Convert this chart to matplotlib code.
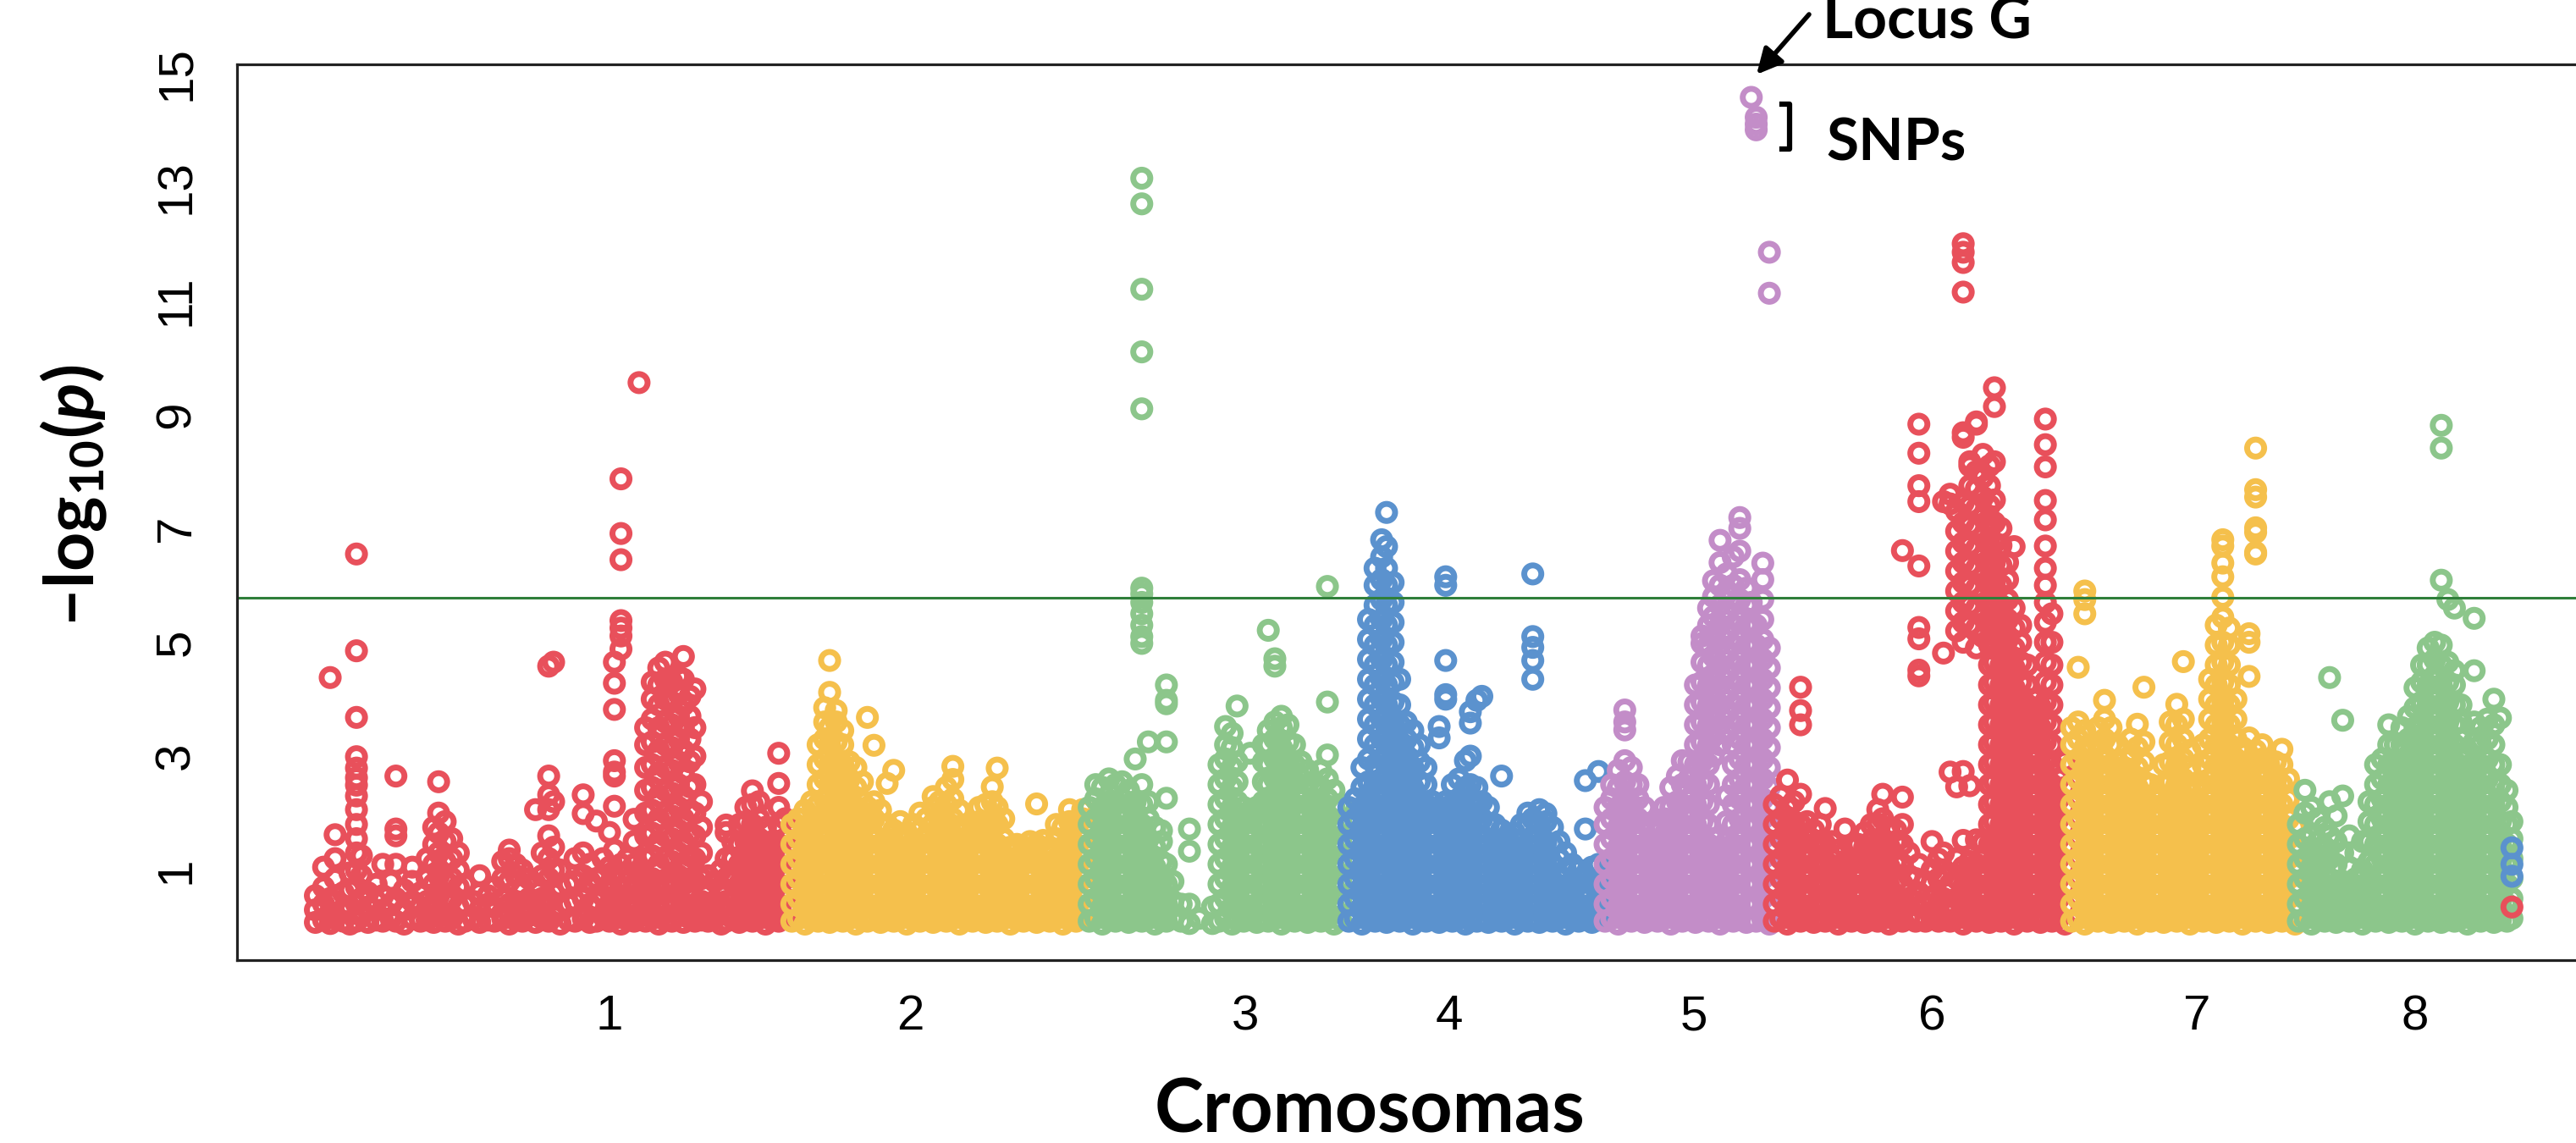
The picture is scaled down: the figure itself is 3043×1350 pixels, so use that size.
import matplotlib
matplotlib.use('Agg')
import matplotlib.pyplot as plt
from matplotlib.lines import Line2D

################ data : position -> list of -log10(p) at that position ################

chr1 = {
    192: [0.08, 0.3, 0.55], 197: [0.12, 0.4, 0.7, 1.05], 201: [0.06, 0.25, 0.5, 4.38],
    204: [0.15, 0.45, 0.85, 1.2, 1.62], 209: [0.1, 0.3, 0.6], 213: [0.05, 0.35, 0.65, 0.95],
    217: [0.1, 0.4, 0.7, 1.0, 1.3, 1.55, 1.8, 2.06, 2.3, 2.49, 2.62, 2.79, 2.99, 3.68, 4.85, 6.55],
    220: [0.2, 0.5, 0.9, 1.25], 224: [0.08, 0.35, 0.6], 229: [0.12, 0.45, 0.75],
    233: [0.1, 0.3, 0.55, 1.1], 238: [0.15, 0.4, 0.8], 241: [0.1, 0.5, 1.1, 1.6, 1.72, 2.65],
    246: [0.05, 0.3, 0.65], 251: [0.15, 0.45, 0.8, 1.05], 256: [0.1, 0.35, 0.6],
    260: [0.12, 0.45, 0.85, 1.2], 264: [0.08, 0.4, 0.75, 1.1, 1.45, 1.75],
    267: [0.2, 0.55, 0.9, 1.3, 1.65, 2.0, 2.55], 271: [0.1, 0.45, 0.8, 1.15, 1.5, 1.85],
    275: [0.15, 0.5, 0.85, 1.2, 1.55], 279: [0.05, 0.35, 0.7, 1.0, 1.3], 283: [0.1, 0.4, 0.75],
    288: [0.15, 0.45], 292: [0.08, 0.3, 0.6, 0.9], 297: [0.12, 0.4, 0.55], 301: [0.1, 0.35, 0.7],
    306: [0.15, 0.5, 0.85, 1.15], 310: [0.05, 0.4, 0.8, 1.2, 1.35], 314: [0.12, 0.45, 0.9, 1.1],
    318: [0.1, 0.35, 0.7, 1.0], 322: [0.2, 0.5, 0.85], 326: [0.08, 0.4, 0.75, 2.06],
    330: [0.15, 0.5, 0.9, 1.3], 334: [0.1, 0.45, 0.85, 1.2, 1.6, 2.06, 2.32, 2.65, 4.58],
    337: [0.2, 0.6, 1.0, 1.4, 2.2, 4.65], 341: [0.05, 0.35, 0.7, 1.0], 346: [0.12, 0.4, 0.75],
    350: [0.1, 0.45, 0.8, 1.2], 355: [0.15, 0.5, 0.9, 1.3, 1.99, 2.32], 359: [0.08, 0.4, 0.8, 1.1],
    363: [0.1, 0.45, 0.85, 1.86], 367: [0.2, 0.55, 0.9, 1.2], 371: [0.1, 0.4, 0.75, 1.05, 1.66],
    374: [0.15, 0.5, 0.9, 1.35, 2.12, 2.65, 2.72, 2.92, 3.82, 4.28, 4.65],
    378: [0.05, 0.35, 0.7, 1.1, 4.88, 5.11, 5.25, 5.38, 6.45, 6.91, 7.87],
    382: [0.12, 0.45, 0.8, 1.2], 386: [0.1, 0.4, 0.75, 1.1, 1.5, 1.89], 389: [0.2, 0.55, 0.9, 9.56],
    393: [0.1, 0.45, 0.8, 1.2, 1.6, 2.0, 2.4, 2.8, 3.2, 3.5],
    397: [0.15, 0.5, 0.85, 1.25, 1.65, 2.05, 2.45, 2.85, 3.25, 3.65, 4.0, 4.3],
    401: [0.05, 0.4, 0.75, 1.1, 1.5, 1.9, 2.3, 2.7, 3.1, 3.5, 3.9, 4.25, 4.55],
    405: [0.12, 0.45, 0.8, 1.2, 1.6, 2.0, 2.4, 2.8, 3.2, 3.6, 4.0, 4.35, 4.65],
    409: [0.1, 0.45, 0.8, 1.15, 1.55, 1.95, 2.35, 2.75, 3.15, 3.55, 3.95, 4.3],
    413: [0.2, 0.55, 0.9, 1.3, 1.7, 2.1, 2.5, 2.9, 3.3, 3.7, 4.1, 4.4],
    416: [0.08, 0.4, 0.75, 1.1, 1.5, 1.9, 2.3, 2.7, 3.1, 3.5, 3.9, 4.35, 4.75],
    420: [0.15, 0.5, 0.85, 1.25, 1.65, 2.05, 2.46, 2.9, 3.3, 3.7, 4.05],
    423: [0.1, 0.4, 0.8, 1.2, 1.6, 2.0, 2.5, 3.0, 3.5, 4.18],
    427: [0.12, 0.45, 0.85, 1.3, 1.75, 2.2], 431: [0.1, 0.35, 0.65, 0.9], 435: [0.15, 0.45, 0.8],
    439: [0.05, 0.4, 0.7, 1.0], 442: [0.1, 0.45, 0.85, 1.2, 1.66, 1.79],
    446: [0.15, 0.5, 0.85, 1.2, 1.5], 450: [0.08, 0.4, 0.75, 1.1, 1.45, 1.8],
    454: [0.12, 0.45, 0.8, 1.15, 1.5, 1.85, 2.1], 458: [0.1, 0.4, 0.75, 1.1, 1.45, 1.8, 2.15, 2.39],
    462: [0.15, 0.5, 0.85, 1.2, 1.55, 1.9, 2.2], 466: [0.05, 0.35, 0.7, 1.05, 1.4, 1.75],
    470: [0.12, 0.45, 0.8, 1.15, 1.5], 474: [0.1, 0.4, 0.75, 1.1, 1.45, 1.8, 2.1, 2.52, 3.05],
    478: [0.15, 0.5, 0.85, 1.2, 1.55, 1.9],
}

chr2 = {
    482: [0.1, 0.4, 0.75, 1.1, 1.45, 1.8], 486: [0.15, 0.5, 0.85, 1.2, 1.55, 1.9],
    490: [0.05, 0.35, 0.7, 1.05, 1.4, 1.75, 2.05], 494: [0.12, 0.45, 0.8, 1.15, 1.5, 1.85, 2.2],
    498: [0.1, 0.4, 0.75, 1.1, 1.45, 1.8, 2.15, 2.5, 2.85, 3.2],
    502: [0.15, 0.5, 0.85, 1.2, 1.55, 1.9, 2.25, 2.6, 2.95, 3.3, 3.6, 3.85],
    505: [0.08, 0.4, 0.75, 1.1, 1.45, 1.8, 2.15, 2.5, 2.85, 3.2, 3.5, 4.12, 4.68],
    509: [0.12, 0.45, 0.8, 1.15, 1.5, 1.85, 2.2, 2.55, 2.9, 3.25, 3.6, 3.8],
    513: [0.1, 0.4, 0.75, 1.1, 1.45, 1.8, 2.15, 2.5, 2.85, 3.2, 3.45],
    517: [0.15, 0.5, 0.85, 1.2, 1.55, 1.9, 2.25, 2.6, 2.9],
    521: [0.05, 0.35, 0.7, 1.05, 1.4, 1.75, 2.1, 2.45, 2.8],
    525: [0.12, 0.45, 0.8, 1.15, 1.5, 1.85, 2.2, 2.55], 528: [0.1, 0.4, 0.75, 1.1, 1.45, 1.8, 2.1, 3.68],
    532: [0.15, 0.5, 0.85, 1.2, 1.55, 1.9, 2.2, 3.19], 536: [0.08, 0.4, 0.75, 1.1, 1.45, 1.8, 2.05],
    540: [0.12, 0.45, 0.8, 1.15, 1.5, 1.8, 2.52], 544: [0.1, 0.4, 0.75, 1.1, 1.45, 1.7, 2.75],
    548: [0.15, 0.5, 0.85, 1.2, 1.55, 1.85], 552: [0.05, 0.35, 0.7, 1.05, 1.4, 1.65],
    556: [0.12, 0.45, 0.8, 1.15, 1.5, 1.8], 560: [0.1, 0.4, 0.75, 1.1, 1.45, 1.7, 2.0],
    564: [0.15, 0.5, 0.85, 1.2, 1.55, 1.9], 568: [0.08, 0.4, 0.75, 1.1, 1.45, 1.8, 2.1, 2.29],
    572: [0.12, 0.45, 0.8, 1.15, 1.5, 1.85, 2.2], 576: [0.1, 0.4, 0.75, 1.1, 1.45, 1.8, 2.15, 2.45],
    580: [0.15, 0.5, 0.85, 1.2, 1.55, 1.9, 2.25, 2.59, 2.82], 584: [0.05, 0.35, 0.7, 1.05, 1.4, 1.75, 2.05],
    588: [0.12, 0.45, 0.8, 1.15, 1.5, 1.8], 592: [0.1, 0.4, 0.75, 1.1, 1.45, 1.75],
    596: [0.15, 0.5, 0.85, 1.2, 1.55, 1.85, 2.1], 600: [0.08, 0.4, 0.75, 1.1, 1.45, 1.8, 2.15],
    604: [0.12, 0.45, 0.8, 1.15, 1.5, 1.85, 2.2, 2.46], 607: [0.1, 0.4, 0.75, 1.1, 1.45, 1.8, 2.1, 2.79],
    611: [0.15, 0.5, 0.85, 1.2, 1.55, 1.9], 615: [0.05, 0.35, 0.7, 1.05, 1.4],
    619: [0.12, 0.45, 0.8, 1.15, 1.45], 623: [0.1, 0.4, 0.75, 1.1, 1.4], 627: [0.15, 0.5, 0.85, 1.2, 1.5],
    631: [0.08, 0.4, 0.75, 1.1, 1.45, 2.16], 635: [0.12, 0.45, 0.8, 1.15, 1.52],
    639: [0.1, 0.4, 0.75, 1.1, 1.4], 643: [0.15, 0.5, 0.85, 1.2, 1.55, 1.8],
    647: [0.05, 0.35, 0.7, 1.05, 1.4, 1.75], 651: [0.12, 0.45, 0.8, 1.15, 1.5, 1.85, 2.06],
    655: [0.1, 0.4, 0.75, 1.1, 1.45, 1.8], 659: [0.15, 0.5, 0.85, 1.2, 1.55, 1.9, 2.06],
}

chr3 = {
    663: [0.1, 0.4, 0.75, 1.1, 1.45, 1.8, 2.1], 667: [0.15, 0.5, 0.85, 1.2, 1.55, 1.9, 2.25, 2.5],
    671: [0.05, 0.35, 0.7, 1.05, 1.4, 1.75, 2.1, 2.45], 675: [0.12, 0.45, 0.8, 1.15, 1.5, 1.85, 2.2, 2.6],
    679: [0.1, 0.4, 0.75, 1.1, 1.45, 1.8, 2.15, 2.5], 683: [0.15, 0.5, 0.85, 1.2, 1.55, 1.9, 2.25, 2.55],
    687: [0.08, 0.4, 0.75, 1.1, 1.45, 1.8, 2.15, 2.4], 691: [0.12, 0.45, 0.8, 1.15, 1.5, 1.85, 2.2, 2.95],
    695: [0.1, 0.4, 0.75, 1.1, 1.45, 1.8, 2.15, 2.5, 4.98, 5.1, 5.3, 5.5, 5.7, 5.85, 5.95,
          9.1, 10.1, 11.2, 12.7, 13.15],
    699: [0.15, 0.5, 0.85, 1.2, 1.55, 1.9, 2.2, 3.25], 703: [0.05, 0.35, 0.7, 1.05, 1.4, 1.75],
    707: [0.12, 0.45, 0.8, 1.15, 1.5, 1.69], 710: [0.1, 0.4, 0.75, 1.1, 2.26, 3.25, 3.92, 3.98, 4.25],
    714: [0.15, 0.45, 0.8], 719: [0.1, 0.4], 724: [0.06, 0.4, 1.33, 1.72], 730: [0.15], 738: [0.06, 0.35],
    742: [0.1, 0.4, 0.75, 1.1, 1.45, 1.8, 2.15, 2.5, 2.85],
    746: [0.15, 0.5, 0.85, 1.2, 1.55, 1.9, 2.25, 2.6, 2.95, 3.2, 3.52],
    750: [0.05, 0.35, 0.7, 1.05, 1.4, 1.75, 2.1, 2.45, 2.8, 3.15, 3.4],
    753: [0.12, 0.45, 0.8, 1.15, 1.5, 1.85, 2.2, 2.55, 2.9, 3.88],
    757: [0.1, 0.4, 0.75, 1.1, 1.45, 1.8, 2.1], 761: [0.15, 0.5, 0.85, 1.2, 1.55, 1.9, 3.05],
    765: [0.08, 0.4, 0.75, 1.1, 1.45, 1.8, 2.1],
    769: [0.12, 0.45, 0.8, 1.15, 1.5, 1.85, 2.2, 2.55, 2.9, 3.2],
    772: [0.1, 0.4, 0.75, 1.1, 1.45, 1.8, 2.15, 2.5, 2.85, 3.2, 3.45, 5.21],
    776: [0.15, 0.5, 0.85, 1.2, 1.55, 1.9, 2.25, 2.6, 2.95, 3.3, 3.6, 4.58, 4.71],
    780: [0.05, 0.35, 0.7, 1.05, 1.4, 1.75, 2.1, 2.45, 2.8, 3.15, 3.5, 3.7],
    784: [0.12, 0.45, 0.8, 1.15, 1.5, 1.85, 2.2, 2.55, 2.9, 3.25, 3.55],
    788: [0.1, 0.4, 0.75, 1.1, 1.45, 1.8, 2.15, 2.5, 2.85, 3.2],
    792: [0.15, 0.5, 0.85, 1.2, 1.55, 1.9, 2.25, 2.6, 2.9],
    796: [0.08, 0.4, 0.75, 1.1, 1.45, 1.8, 2.15, 2.5, 2.75],
    800: [0.12, 0.45, 0.8, 1.15, 1.5, 1.85, 2.2, 2.5],
    804: [0.1, 0.4, 0.75, 1.1, 1.45, 1.8, 2.15, 2.45, 2.75],
    808: [0.15, 0.5, 0.85, 1.2, 1.55, 1.9, 2.25, 2.6, 3.02, 3.95, 5.98],
    812: [0.05, 0.35, 0.7, 1.05, 1.4, 1.75, 2.1, 2.4], 816: [0.12, 0.45, 0.8, 1.15, 1.5, 1.85, 2.15],
}

chr4 = {
    821: [0.1, 0.4, 0.75, 1.1, 1.45, 1.8, 2.1], 825: [0.15, 0.5, 0.85, 1.2, 1.55, 1.9, 2.25],
    829: [0.05, 0.35, 0.7, 1.05, 1.4, 1.75, 2.1, 2.45, 2.8],
    833: [0.12, 0.45, 0.8, 1.15, 1.5, 1.85, 2.2, 2.55, 2.95, 3.3, 3.65, 4.0, 4.35, 4.7, 5.05, 5.4],
    837: [0.1, 0.4, 0.75, 1.1, 1.45, 1.8, 2.15, 2.5, 2.85, 3.2, 3.55, 3.9, 4.25, 4.6, 4.95, 5.3,
          5.65, 6.0, 6.3],
    841: [0.15, 0.5, 0.85, 1.2, 1.55, 1.9, 2.25, 2.6, 2.95, 3.3, 3.65, 4.0, 4.35, 4.7, 5.05, 5.4,
          5.75, 6.1, 6.5, 6.8],
    844: [0.08, 0.4, 0.75, 1.1, 1.45, 1.8, 2.15, 2.5, 2.85, 3.2, 3.55, 3.9, 4.25, 4.6, 4.95, 5.3,
          5.65, 6.0, 6.3, 6.68, 7.28],
    848: [0.12, 0.45, 0.8, 1.15, 1.5, 1.85, 2.2, 2.55, 2.9, 3.25, 3.6, 3.95, 4.3, 4.65, 5.0, 5.35,
          5.7, 6.05],
    852: [0.1, 0.4, 0.75, 1.1, 1.45, 1.8, 2.15, 2.5, 2.85, 3.2, 3.55, 3.9, 4.35],
    856: [0.15, 0.5, 0.85, 1.2, 1.55, 1.9, 2.25, 2.6, 2.95, 3.3, 3.6],
    860: [0.05, 0.35, 0.7, 1.05, 1.4, 1.75, 2.1, 2.45, 2.8, 3.15, 3.45],
    864: [0.12, 0.45, 0.8, 1.15, 1.5, 1.85, 2.2, 2.55, 2.9, 3.2],
    868: [0.1, 0.4, 0.75, 1.1, 1.45, 1.8, 2.15, 2.5, 2.8], 872: [0.15, 0.5, 0.85, 1.2, 1.55, 1.9, 2.2],
    876: [0.08, 0.4, 0.75, 1.1, 1.45, 1.8, 2.1, 3.32, 3.52],
    880: [0.12, 0.45, 0.8, 1.15, 1.5, 1.85, 2.2, 4.0, 4.08, 4.68, 6.0, 6.15],
    884: [0.1, 0.4, 0.75, 1.1, 1.45, 1.8, 2.15, 2.5], 888: [0.15, 0.5, 0.85, 1.2, 1.55, 1.9, 2.25, 2.6],
    892: [0.05, 0.35, 0.7, 1.05, 1.4, 1.75, 2.1, 2.45, 2.92],
    895: [0.12, 0.45, 0.8, 1.15, 1.5, 1.85, 2.2, 2.5, 3.0, 3.58, 3.78],
    899: [0.1, 0.4, 0.75, 1.1, 1.45, 1.8, 2.15, 2.45, 3.98], 902: [0.15, 0.5, 0.85, 1.2, 1.55, 1.9, 2.2, 4.05],
    906: [0.08, 0.4, 0.75, 1.1, 1.45, 1.8, 2.1], 910: [0.12, 0.45, 0.8, 1.15, 1.5, 1.8],
    914: [0.1, 0.4, 0.75, 1.1, 1.45, 1.7, 2.65], 918: [0.15, 0.5, 0.85, 1.2, 1.5],
    922: [0.05, 0.35, 0.7, 1.05, 1.4, 1.65], 926: [0.12, 0.45, 0.8, 1.15, 1.5, 1.8],
    930: [0.1, 0.4, 0.75, 1.1, 1.45, 1.8, 2.0],
    933: [0.15, 0.5, 0.85, 1.2, 1.55, 1.9, 4.35, 4.68, 4.91, 5.1, 6.2],
    937: [0.08, 0.4, 0.75, 1.1, 1.45, 1.8, 2.06], 941: [0.12, 0.45, 0.8, 1.15, 1.5, 1.85, 1.99],
    945: [0.1, 0.4, 0.75, 1.1, 1.45, 1.75], 949: [0.15, 0.5, 0.85, 1.2, 1.5],
    953: [0.05, 0.35, 0.7, 1.0, 1.3], 957: [0.12, 0.45, 0.8, 1.1], 961: [0.1, 0.4, 0.75, 1.0],
    965: [0.15, 0.5, 0.85, 1.72, 2.57], 969: [0.08, 0.4, 0.75, 1.05], 973: [0.12, 0.45, 0.8, 1.1, 2.73],
}

chr5 = {
    977: [0.1, 0.4, 0.75, 1.1, 1.45, 1.8, 2.1], 981: [0.15, 0.5, 0.85, 1.2, 1.55, 1.9, 2.25, 2.5],
    985: [0.05, 0.35, 0.7, 1.05, 1.4, 1.75, 2.1, 2.45, 2.75],
    989: [0.12, 0.45, 0.8, 1.15, 1.5, 1.85, 2.2, 2.55, 2.92, 3.46, 3.6, 3.81],
    993: [0.1, 0.4, 0.75, 1.1, 1.45, 1.8, 2.15, 2.5, 2.8],
    997: [0.15, 0.5, 0.85, 1.2, 1.55, 1.9, 2.25, 2.5], 1001: [0.08, 0.4, 0.75, 1.1, 1.45, 1.8, 2.1],
    1005: [0.12, 0.45, 0.8, 1.15, 1.5, 1.8], 1009: [0.1, 0.4, 0.75, 1.1, 1.45, 1.75],
    1013: [0.15, 0.5, 0.85, 1.2, 1.55, 1.9, 2.1], 1017: [0.05, 0.35, 0.7, 1.05, 1.4, 1.75, 2.1, 2.45],
    1021: [0.12, 0.45, 0.8, 1.15, 1.5, 1.85, 2.2, 2.65],
    1024: [0.1, 0.4, 0.75, 1.1, 1.45, 1.8, 2.15, 2.5, 2.92],
    1028: [0.15, 0.5, 0.85, 1.2, 1.55, 1.9, 2.25, 2.6, 2.9],
    1032: [0.08, 0.4, 0.75, 1.1, 1.45, 1.8, 2.15, 2.5, 2.85, 3.2, 3.55, 3.9, 4.25],
    1036: [0.12, 0.45, 0.8, 1.15, 1.5, 1.85, 2.2, 2.55, 2.9, 3.25, 3.6, 3.95, 4.3, 4.65, 4.98, 5.11],
    1040: [0.1, 0.4, 0.75, 1.1, 1.45, 1.8, 2.15, 2.5, 2.85, 3.2, 3.55, 3.9, 4.25, 4.6, 4.95, 5.3, 5.6],
    1043: [0.15, 0.5, 0.85, 1.2, 1.55, 3.0, 3.35, 3.7, 4.05, 4.4, 4.75, 5.1, 5.45, 5.8, 6.08],
    1047: [0.05, 0.35, 0.7, 1.05, 1.4, 3.2, 3.55, 3.9, 4.25, 4.6, 4.95, 5.3, 5.65, 6.0, 6.4, 6.79],
    1051: [0.12, 0.45, 0.8, 1.15, 1.5, 1.85, 2.3, 3.4, 3.75, 4.1, 4.45, 4.8, 5.15, 5.5, 5.85, 6.2],
    1055: [0.1, 0.4, 0.75, 1.1, 1.45, 1.8, 2.15, 2.5, 2.85, 3.2, 3.55, 3.9, 4.25, 4.6, 4.95, 5.3,
           5.65, 6.0, 6.5],
    1059: [0.15, 0.5, 0.85, 1.2, 1.55, 1.9, 2.25, 2.6, 2.95, 3.3, 3.65, 4.0, 4.35, 4.7, 5.05, 5.4,
           5.75, 6.1, 6.6, 7.0, 7.19],
    1063: [0.08, 0.4, 0.75, 1.1, 1.45, 1.8, 2.15, 2.5, 2.85, 3.2, 3.55, 3.9, 4.25, 4.6, 4.95, 5.3,
           5.65, 5.95],
    1066: [0.12, 0.45, 0.8, 1.15, 1.5, 1.85, 2.2, 2.55, 2.9, 3.25, 3.6, 3.95, 4.3, 4.65, 5.0, 5.35,
           5.7, 14.57],
    1069: [0.1, 0.4, 0.75, 1.1, 1.45, 1.8, 2.15, 2.5, 2.85, 3.2, 3.55, 3.9, 4.25, 4.6, 4.95, 5.3,
           14.0, 14.1, 14.22],
    1073: [0.15, 0.5, 0.85, 1.2, 1.55, 1.9, 2.25, 2.6, 2.95, 3.3, 3.65, 4.0, 4.35, 4.7, 5.05, 5.4,
           5.75, 6.1, 6.39],
    1077: [0.05, 0.35, 0.7, 1.05, 1.4, 1.75, 2.1, 2.45, 2.8, 3.15, 3.5, 3.85, 4.2, 4.55, 4.9,
           11.13, 11.85],
}

chr6 = {
    1080: [0.1, 0.4, 0.75, 1.1, 1.45, 1.8, 2.15], 1084: [0.15, 0.5, 0.85, 1.2, 1.55, 1.9, 2.3],
    1088: [0.05, 0.35, 0.7, 1.05, 1.4, 1.75, 2.1, 2.58], 1092: [0.12, 0.45, 0.8, 1.15, 1.5, 1.85, 2.2],
    1096: [0.1, 0.4, 0.75, 1.1, 1.45, 1.8, 2.33, 3.55, 3.8, 4.21],
    1100: [0.15, 0.5, 0.85, 1.2, 1.55, 1.85], 1104: [0.08, 0.4, 0.75, 1.1, 1.45, 1.7],
    1108: [0.12, 0.45, 0.8, 1.15, 1.5, 1.8], 1111: [0.1, 0.4, 0.75, 1.1, 1.45, 2.08],
    1115: [0.15, 0.5, 0.85, 1.2, 1.5], 1119: [0.05, 0.35, 0.7, 1.05, 1.35],
    1123: [0.12, 0.45, 0.8, 1.15, 1.72], 1127: [0.1, 0.4, 0.75, 1.1, 1.4], 1131: [0.15, 0.5, 0.85, 1.2, 1.45],
    1135: [0.08, 0.4, 0.75, 1.1, 1.4, 1.65], 1139: [0.12, 0.45, 0.8, 1.15, 1.5, 1.8],
    1143: [0.1, 0.4, 0.75, 1.1, 1.45, 1.8, 2.06], 1146: [0.15, 0.5, 0.85, 1.2, 1.55, 1.9, 2.33],
    1150: [0.05, 0.35, 0.7, 1.05, 1.4, 1.75], 1154: [0.12, 0.45, 0.8, 1.15, 1.5, 1.7],
    1158: [0.1, 0.4, 0.75, 1.1, 1.45, 1.8, 2.28, 6.61], 1162: [0.15, 0.5, 0.9, 1.3], 1166: [0.1, 0.45, 0.85],
    1168: [0.2, 0.6, 1.1, 4.41, 4.51, 5.06, 5.26, 6.34, 7.47, 7.75, 8.32, 8.83],
    1172: [0.1, 0.4, 0.8], 1176: [0.15, 0.5, 1.0, 1.5], 1180: [0.1, 0.45, 0.85, 1.19],
    1183: [0.15, 0.5, 0.9, 1.3, 4.81, 7.47], 1187: [0.1, 0.4, 0.75, 2.72, 7.43, 7.6],
    1191: [0.15, 0.5, 0.85, 1.2, 2.46, 5.2, 5.55, 5.9, 6.25, 6.6, 6.95, 7.3],
    1195: [0.05, 0.35, 0.7, 1.05, 1.52, 2.73, 5.0, 5.35, 5.7, 6.05, 6.4, 6.75, 7.1, 7.45, 8.6, 8.68,
           11.15, 11.67, 11.85, 12.0],
    1199: [0.12, 0.45, 0.8, 1.15, 2.48, 5.3, 5.65, 6.0, 6.35, 6.7, 7.05, 7.4, 7.75, 8.1, 8.17],
    1203: [0.1, 0.4, 0.75, 1.1, 1.53, 4.9, 5.25, 5.6, 5.95, 6.3, 6.65, 7.0, 7.35, 7.7, 8.0, 8.83, 8.87],
    1207: [0.15, 0.5, 0.85, 1.2, 1.48, 5.1, 5.45, 5.8, 6.15, 6.5, 6.85, 7.2, 7.55, 7.9, 8.3],
    1211: [0.08, 0.4, 0.75, 1.1, 1.45, 1.8, 2.15, 2.5, 2.85, 3.2, 3.55, 3.9, 4.25, 4.6, 4.95, 5.3,
           5.65, 6.0, 6.35, 6.7, 7.05, 7.4, 7.75, 8.1],
    1214: [0.12, 0.45, 0.8, 1.15, 1.5, 1.85, 2.2, 2.55, 2.9, 3.25, 3.6, 3.95, 4.3, 4.65, 5.0, 5.35,
           5.7, 6.05, 6.4, 6.75, 7.1, 7.5, 8.17, 9.14, 9.47],
    1218: [0.1, 0.4, 0.75, 1.1, 1.45, 1.8, 2.15, 2.5, 2.85, 3.2, 3.55, 3.9, 4.25, 4.6, 4.95, 5.3,
           5.65, 6.0, 6.35, 6.7, 7.0],
    1222: [0.15, 0.5, 0.85, 1.2, 1.55, 1.9, 2.25, 2.6, 2.95, 3.3, 3.65, 4.0, 4.35, 4.7, 5.05, 5.4,
           5.75, 6.1, 6.4],
    1226: [0.05, 0.35, 0.7, 1.05, 1.4, 1.75, 2.1, 2.45, 2.8, 3.15, 3.5, 3.85, 4.2, 4.55, 4.9, 5.25,
           5.6, 6.68],
    1230: [0.12, 0.45, 0.8, 1.15, 1.5, 1.85, 2.2, 2.55, 2.9, 3.25, 3.6, 3.95, 4.3, 4.65, 5.0, 5.3],
    1234: [0.1, 0.4, 0.75, 1.1, 1.45, 1.8, 2.15, 2.5, 2.85, 3.2, 3.55, 3.9, 4.25, 4.6],
    1238: [0.15, 0.5, 0.85, 1.2, 1.55, 1.9, 2.25, 2.6, 2.95, 3.3, 3.65, 4.0],
    1242: [0.08, 0.4, 0.75, 1.1, 1.45, 1.8, 2.15, 2.5, 2.85, 3.2, 3.5, 3.86],
    1245: [0.12, 0.45, 0.8, 1.15, 1.5, 1.85, 2.2, 2.55, 2.9, 3.25, 3.6, 3.95, 4.3, 4.65, 5.0, 5.35,
           5.7, 6.0, 6.3, 6.69, 7.15, 7.49, 8.08, 8.47, 8.92],
    1249: [0.1, 0.4, 0.75, 1.1, 1.45, 1.8, 2.15, 2.5, 2.85, 3.2, 3.55, 3.9, 4.25, 4.6, 5.0, 5.5],
    1253: [0.15, 0.5, 0.85, 1.2, 1.55, 1.9, 2.25, 2.6],
    1257: [0.05, 0.35, 0.7, 1.05, 1.4, 1.75, 2.1, 2.45, 2.91],
}

chr7 = {
    1261: [0.1, 0.4, 0.75, 1.1, 1.45, 1.8, 2.15, 2.5, 2.85, 3.2, 3.5],
    1265: [0.15, 0.5, 0.85, 1.2, 1.55, 1.9, 2.25, 2.6, 2.95, 3.3, 3.6, 4.56],
    1269: [0.05, 0.35, 0.7, 1.05, 1.4, 1.75, 2.1, 2.45, 2.8, 3.15, 3.45, 5.5, 5.75, 5.9],
    1273: [0.12, 0.45, 0.8, 1.15, 1.5, 1.85, 2.2, 2.55, 2.9, 3.2],
    1277: [0.1, 0.4, 0.75, 1.1, 1.45, 1.8, 2.15, 2.5, 2.85, 3.2, 3.5],
    1281: [0.15, 0.5, 0.85, 1.2, 1.55, 1.9, 2.25, 2.6, 2.95, 3.3, 3.65, 3.98],
    1285: [0.08, 0.4, 0.75, 1.1, 1.45, 1.8, 2.15, 2.5, 2.85, 3.2, 3.5],
    1289: [0.12, 0.45, 0.8, 1.15, 1.5, 1.85, 2.2, 2.55, 2.9, 3.2],
    1293: [0.1, 0.4, 0.75, 1.1, 1.45, 1.8, 2.15, 2.5, 2.8],
    1297: [0.15, 0.5, 0.85, 1.2, 1.55, 1.9, 2.25, 2.6, 2.95, 3.3],
    1301: [0.05, 0.35, 0.7, 1.05, 1.4, 1.75, 2.1, 2.45, 2.8, 3.15, 3.56],
    1305: [0.12, 0.45, 0.8, 1.15, 1.5, 1.85, 2.2, 2.55, 2.9, 3.25, 4.21],
    1309: [0.1, 0.4, 0.75, 1.1, 1.45, 1.8, 2.15, 2.5], 1313: [0.15, 0.5, 0.85, 1.2, 1.55, 1.9, 2.25],
    1317: [0.08, 0.4, 0.75, 1.1, 1.45, 1.8, 2.15, 2.5, 2.85],
    1321: [0.12, 0.45, 0.8, 1.15, 1.5, 1.85, 2.2, 2.55, 2.9, 3.25, 3.6],
    1325: [0.1, 0.4, 0.75, 1.1, 1.45, 1.8, 2.15, 2.5, 2.85, 3.2, 3.55, 3.91],
    1329: [0.15, 0.5, 0.85, 1.2, 1.55, 1.9, 2.25, 2.6, 2.95, 3.3, 3.65, 4.66],
    1333: [0.05, 0.35, 0.7, 1.05, 1.4, 1.75, 2.1, 2.45, 2.8, 3.1],
    1337: [0.12, 0.45, 0.8, 1.15, 1.5, 1.85, 2.2, 2.5],
    1341: [0.1, 0.4, 0.75, 1.1, 1.45, 1.8, 2.15, 2.5, 2.85, 3.2],
    1345: [0.15, 0.5, 0.85, 1.2, 1.55, 1.9, 2.25, 2.6, 2.95, 3.3, 3.65, 4.0, 4.35],
    1349: [0.08, 0.4, 0.75, 1.1, 1.45, 1.8, 2.15, 2.5, 2.85, 3.2, 3.55, 3.9, 4.25, 4.6, 4.95, 5.3],
    1353: [0.12, 0.45, 0.8, 1.15, 1.5, 1.85, 2.2, 2.55, 2.9, 3.25, 3.6, 3.95, 4.3, 4.65, 5.0, 5.44,
           5.79, 6.15, 6.39, 6.69, 6.8],
    1357: [0.1, 0.4, 0.75, 1.1, 1.45, 1.8, 2.15, 2.5, 2.85, 3.2, 3.55, 3.9, 4.25, 4.6, 4.95, 5.25],
    1361: [0.15, 0.5, 0.85, 1.2, 1.55, 1.9, 2.25, 2.6, 2.95, 3.3, 3.65, 4.0],
    1365: [0.05, 0.35, 0.7, 1.05, 1.4, 1.75, 2.1, 2.45, 2.8, 3.15],
    1369: [0.12, 0.45, 0.8, 1.15, 1.5, 1.85, 2.2, 2.55, 2.9, 3.32, 4.4, 5.0, 5.15],
    1373: [0.1, 0.4, 0.75, 1.1, 1.45, 1.8, 2.15, 2.5, 2.85, 3.1, 6.55, 6.58, 6.93, 7.01, 7.55, 7.68, 8.41],
    1377: [0.15, 0.5, 0.85, 1.2, 1.55, 1.9, 2.25, 2.6, 2.95, 3.2],
    1381: [0.08, 0.4, 0.75, 1.1, 1.45, 1.8, 2.15, 2.5, 2.85],
    1385: [0.12, 0.45, 0.8, 1.15, 1.5, 1.85, 2.2, 2.55, 2.9],
    1389: [0.1, 0.4, 0.75, 1.1, 1.45, 1.8, 2.15, 2.5, 2.85, 3.12],
    1393: [0.15, 0.5, 0.85, 1.2, 1.55, 1.9, 2.25, 2.6], 1397: [0.05, 0.35, 0.7, 1.05, 1.4, 1.75],
}

chr8 = {
    1399: [0.1, 0.4, 0.75, 1.1, 1.45, 1.8], 1403: [0.15, 0.5, 0.85, 1.2, 1.55, 2.0, 2.4],
    1407: [0.05, 0.35, 0.7, 1.05, 1.4, 1.6, 2.1], 1411: [0.12, 0.45, 0.8, 1.15, 1.5, 1.9],
    1415: [0.1, 0.4, 0.75, 1.1, 1.4, 1.75], 1418: [0.15, 0.5, 0.85, 1.2, 1.6, 2.2, 4.38],
    1422: [0.08, 0.4, 0.75, 1.1, 1.5, 1.95], 1426: [0.12, 0.45, 0.8, 1.3, 2.3, 3.63],
    1430: [0.1, 0.4, 0.75, 1.05, 1.6], 1434: [0.15, 0.5, 0.85, 1.3], 1438: [0.05, 0.35, 0.7, 1.0, 1.5],
    1442: [0.12, 0.45, 0.8, 1.15, 1.5, 1.85, 2.2],
    1446: [0.1, 0.4, 0.75, 1.1, 1.45, 1.8, 2.15, 2.5, 2.85],
    1450: [0.15, 0.5, 0.85, 1.2, 1.55, 1.9, 2.25, 2.6, 2.95],
    1454: [0.08, 0.4, 0.75, 1.1, 1.45, 1.8, 2.15, 2.5, 2.85, 3.2, 3.55],
    1458: [0.12, 0.45, 0.8, 1.15, 1.5, 1.85, 2.2, 2.55, 2.9, 3.2],
    1462: [0.1, 0.4, 0.75, 1.1, 1.45, 1.8, 2.15, 2.5, 2.85, 3.2, 3.5],
    1466: [0.15, 0.5, 0.85, 1.2, 1.55, 1.9, 2.25, 2.6, 2.95, 3.3, 3.7],
    1470: [0.05, 0.35, 0.7, 1.05, 1.4, 1.75, 2.1, 2.45, 2.8, 3.15, 3.5, 3.85, 4.2],
    1474: [0.12, 0.45, 0.8, 1.15, 1.5, 1.85, 2.2, 2.55, 2.9, 3.25, 3.6, 3.95, 4.3, 4.6],
    1478: [0.1, 0.4, 0.75, 1.1, 1.45, 1.8, 2.15, 2.5, 2.85, 3.2, 3.55, 3.9, 4.25, 4.6, 4.9],
    1482: [0.15, 0.5, 0.85, 1.2, 1.55, 1.9, 2.25, 2.6, 2.95, 3.3, 3.65, 4.0, 4.35, 4.7, 5.0],
    1486: [0.08, 0.4, 0.75, 1.1, 1.45, 1.8, 2.15, 2.5, 2.85, 3.2, 3.55, 3.9, 4.25, 4.6, 4.95, 6.09,
           8.41, 8.81],
    1490: [0.12, 0.45, 0.8, 1.15, 1.5, 1.85, 2.2, 2.55, 2.9, 3.25, 3.6, 3.95, 4.3, 4.65, 5.75],
    1494: [0.1, 0.4, 0.75, 1.1, 1.45, 1.8, 2.15, 2.5, 2.85, 3.2, 3.55, 3.9, 4.25, 4.5, 5.6],
    1498: [0.15, 0.5, 0.85, 1.2, 1.55, 1.9, 2.25, 2.6, 2.95, 3.3, 3.6, 3.9],
    1502: [0.05, 0.35, 0.7, 1.05, 1.4, 1.75, 2.1, 2.45, 2.8, 3.1],
    1506: [0.12, 0.45, 0.8, 1.15, 1.5, 1.85, 2.2, 2.55, 2.9, 3.25, 3.6, 4.5, 5.42],
    1510: [0.1, 0.4, 0.75, 1.1, 1.45, 1.8, 2.15, 2.5, 2.85, 3.2, 3.5],
    1514: [0.15, 0.5, 0.85, 1.2, 1.55, 1.9, 2.25, 2.6, 2.95, 3.3, 3.65],
    1518: [0.08, 0.4, 0.75, 1.1, 1.45, 1.8, 2.15, 2.5, 2.85, 3.2, 3.55, 4.0],
    1522: [0.12, 0.45, 0.8, 1.15, 1.5, 1.85, 2.2, 2.5, 2.85, 3.67],
    1526: [0.1, 0.4, 0.75, 1.1, 1.45, 1.8, 2.1, 2.4], 1529: [0.15, 0.5, 0.85, 1.2, 1.55, 1.85],
}

# the few unplaced snps drawn at the far right
chr9 = {1529: [0.89, 1.1, 1.39]}
chr10 = {1529: [0.35]}

chromosomes = [chr1, chr2, chr3, chr4, chr5, chr6, chr7, chr8, chr9, chr10]
chr_colors = ['#E8505B', '#F5C04C', '#8CC68B', '#5B92CE', '#C38DC8',
              '#E8505B', '#F5C04C', '#8CC68B', '#5B92CE', '#E8505B']

chr_labels = ['1', '2', '3', '4', '5', '6', '7', '8']
chr_label_pos = [371, 554, 758, 882, 1031, 1176, 1337, 1470]
y_ticks = [1, 3, 5, 7, 9, 11, 13, 15]
threshold = 5.78

######################################## plot ########################################

plt.rcParams['mathtext.fontset'] = 'custom'
plt.rcParams['mathtext.rm'] = 'Lato:bold'
plt.rcParams['mathtext.it'] = 'Lato:bold:italic'

W, H = 3043, 1350
fig = plt.figure(figsize=(W/100, H/100), dpi=100)
ax = fig.add_axes([280/W, (H-1134)/H, (3076-280)/W, (1134-76)/H])

for snps, col in zip(chromosomes, chr_colors):
    xs = []
    ys = []
    for pos, vals in snps.items():
        for v in vals:
            xs.append(pos)
            ys.append(v)
    ax.scatter(xs, ys, s=14.5**2, facecolors='none', edgecolors=col, linewidths=5)

ax.axhline(threshold, color='#2f7f3a', lw=2.2)

ax.set_xlim(144.3, 1585)
ax.set_ylim(-0.583, 15.15)

ax.set_xticks(chr_label_pos)
ax.set_xticklabels(chr_labels, fontsize=42, family='Liberation Sans')
ax.set_yticks(y_ticks)
ax.set_yticklabels([str(t) for t in y_ticks], fontsize=42, family='Liberation Sans',
                   rotation=90, va='center')
ax.tick_params(axis='x', length=0, pad=29)
ax.tick_params(axis='y', length=0, pad=32)

for side in ['left', 'top', 'bottom', 'right']:
    ax.spines[side].set_linewidth(2.3)
    ax.spines[side].set_color('#222222')

# axis titles
fig.text(87/W, 1 - 586/H, '\u2013' + r'$\mathrm{log}_{\mathrm{10}}$($\mathit{p}$)', rotation=90,
         ha='center', va='center', fontsize=58, family='Lato', fontweight='bold')
fig.text(1618/W, 1 - 1338/H, 'Cromosomas', ha='center', va='baseline',
         fontsize=63, family='Lato', fontweight='bold')

# annotation of the top hit
fig.text(2153/W, 1 - 45/H, 'Locus G', ha='left', va='baseline',
         fontsize=50, family='Lato', fontweight='bold')
fig.text(2157/W, 1 - 190/H, 'SNPs', ha='left', va='baseline',
         fontsize=50, family='Lato', fontweight='bold')
ax.annotate('', xy=(2075, H - 88), xycoords='figure pixels',
            xytext=(2137, H - 17), textcoords='figure pixels',
            arrowprops=dict(arrowstyle='-|>,head_length=0.9,head_width=0.45',
                            color='black', lw=4, mutation_scale=20,
                            shrinkA=0, shrinkB=0))
fig.add_artist(Line2D([2105/W, 2114/W, 2114/W, 2105/W],
                      [1 - 123/H, 1 - 123/H, 1 - 176/H, 1 - 176/H],
                      transform=fig.transFigure, color='black', lw=4.5))

fig.savefig('out.png', dpi=100)
